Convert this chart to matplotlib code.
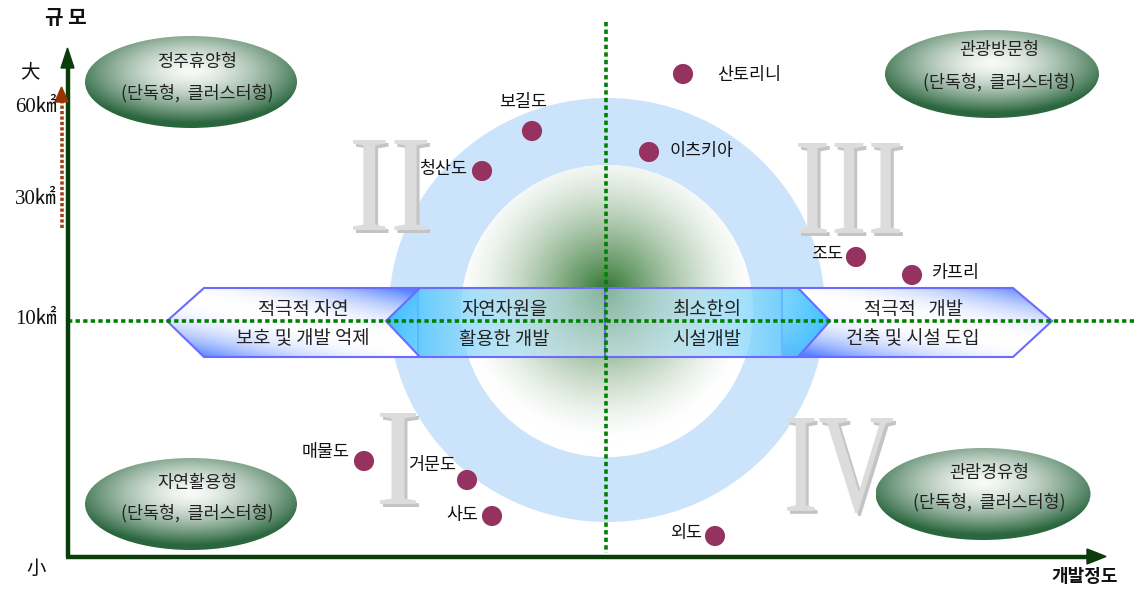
import numpy as np
import matplotlib
matplotlib.use('Agg')
import matplotlib.pyplot as plt
from matplotlib.patches import Polygon, Ellipse, Circle, PathPatch
from matplotlib.textpath import TextPath
from matplotlib.font_manager import FontProperties
from matplotlib.transforms import Affine2D

plt.rcParams['font.family'] = ['Noto Sans CJK KR', 'DejaVu Sans']

# ---------------- data ----------------
island_names = ['산토리니', '보길도', '이츠키아', '청산도', '조도', '카프리', '매물도', '거문도', '사도', '외도']
dev_degree = [683, 532, 649, 482, 856, 912, 364, 467, 492, 715]   # horizontal position (development degree)
scale_pos = [74, 131, 152, 171, 257, 275, 461, 480, 516, 536]     # vertical position (scale)

scale_ticks = ['60㎢', '30㎢', '10㎢']
scale_tick_pos = [108, 200, 320]

type_names = ['정주휴양형', '관광방문형', '자연활용형', '관람경유형']
type_sub = '(단독형,  클러스터형)'

band_labels = [('적극적 자연', '보호 및 개발 억제'),
               ('자연자원을', '활용한 개발'),
               ('최소한의', '시설개발'),
               ('적극적   개발', '건축 및 시설 도입')]

quadrants = ['II', 'III', 'I', 'IV']

# ---------------- figure ----------------
W, H = 1137, 590
fig = plt.figure(figsize=(W / 100, H / 100), dpi=100)
ax = fig.add_axes([0, 0, 1, 1])
ax.set_xlim(0, W)
ax.set_ylim(H, 0)
ax.axis('off')


def grad_img(x0, x1, y0, y1, func, clip, z):
    nx = int(x1 - x0) + 1
    ny = int(y1 - y0) + 1
    xs = np.linspace(x0, x1, nx)
    ys = np.linspace(y0, y1, ny)
    X, Y = np.meshgrid(xs, ys)
    img = func(X, Y)
    im = ax.imshow(img, extent=(x0, x1, y1, y0), origin='upper', zorder=z,
                   interpolation='bilinear', aspect='auto')
    im.set_clip_path(clip)
    return im


# ---- ring ----
cx, cy = 607, 310
ring = Ellipse((cx, cy), 436, 424, facecolor='#cce4fb', edgecolor='none', zorder=1)
ax.add_patch(ring)
inner = Circle((607, 311), 146, facecolor='white', edgecolor='none', zorder=2)
ax.add_patch(inner)


def inner_grad(X, Y):
    d = np.sqrt((X - 606) ** 2 + (Y - 292) ** 2)
    t = np.clip(1 - d / 150.0, 0, 1) ** 1.5
    white = np.array([255, 255, 255]) / 255
    green = np.array([45, 115, 45]) / 255
    return white[None, None, :] * (1 - t[..., None]) + green[None, None, :] * t[..., None]


grad_img(461, 753, 165, 457, inner_grad, inner, 2.5)

# ---- ellipses ----
ell_specs = [((191, 82), 212, 92), ((992, 74), 214, 88), ((191, 504), 212, 92), ((983, 494), 215, 92)]
title_pos = [(197, 62), (999, 50), (197, 483), (989, 473)]
sub_pos = [(197, 93), (999, 82), (197, 513), (989, 502)]


def ell_grad_factory(c, w, h):
    def f(X, Y):
        u = (X - c[0]) / (w / 2)
        v = (Y - c[1]) / (h / 2)
        d = np.sqrt(u ** 2 + (v + 0.25) ** 2) / 1.15
        t = np.clip(d, 0, 1) ** 1.5
        light = np.array([248, 250, 248]) / 255
        dark = np.array([42, 102, 62]) / 255
        return light[None, None, :] * (1 - t[..., None]) + dark[None, None, :] * t[..., None]
    return f


for (c, w, h), tp, sp, name in zip(ell_specs, title_pos, sub_pos, type_names):
    e = Ellipse(c, w, h, facecolor='none', edgecolor='none', zorder=3)
    ax.add_patch(e)
    grad_img(c[0] - w / 2, c[0] + w / 2, c[1] - h / 2, c[1] + h / 2, ell_grad_factory(c, w, h), e, 3)
    ax.text(tp[0], tp[1], name, ha='center', va='center', fontsize=12.5, color='#222222', zorder=4)
    ax.text(sp[0], sp[1], type_sub, ha='center', va='center', fontsize=12.5, color='#222222', zorder=4)

# ---- roman numerals ----
roman_boxes = [(353, 427, 140, 230), (798, 900, 143, 233), (380, 416, 413, 504), (787, 893, 418, 513)]
fp_serif = FontProperties(family='Liberation Serif')


def roman(txt, x0, x1, y0, y1, color, z):
    tp = TextPath((0, 0), txt, size=100, prop=fp_serif)
    bb = tp.get_extents()
    sx = (x1 - x0) / bb.width
    sy = (y1 - y0) / bb.height
    tr = Affine2D().translate(-bb.x0, -bb.y1).scale(sx, -sy).translate(x0, y0)
    p = PathPatch(tr.transform_path(tp), facecolor=color, edgecolor='none', zorder=z)
    ax.add_patch(p)


for txt, (x0, x1, y0, y1) in zip(quadrants, roman_boxes):
    roman(txt, x0 + 3, x1 + 3, y0 + 3, y1 + 3, '#c4c4c4', 3.5)
    roman(txt, x0, x1, y0, y1, '#dcdcdc', 3.6)

# ---- bands ----
yt, ym, yb = 288, 321, 357
band_polys = [
    [(167, ym), (204, yt), (418, yt), (418, yb), (204, yb)],
    [(386, ym), (420, yt), (605, yt), (605, yb), (420, yb)],
    [(605, yt), (798, yt), (830, ym), (798, yb), (605, yb)],
    [(782, yt), (1013, yt), (1052, ym), (1013, yb), (782, yb)],
]


def blue_diag(x0, x1):
    def f(X, Y):
        u = (X - (x0 + x1) / 2) / ((x1 - x0) / 2)
        v = (Y - ym) / ((yb - yt) / 2)
        s = np.clip(np.abs(u * 0.5 - v * 0.6), 0, 1)
        t = s ** 2.2
        white = np.array([255, 255, 255]) / 255
        blue = np.array([85, 130, 255]) / 255
        return white[None, None, :] * (1 - t[..., None]) + blue[None, None, :] * t[..., None]
    return f


def cyan_fade(x0, x1, strong_left):
    def f(X, Y):
        u = (X - x0) / (x1 - x0)
        if strong_left:
            u = 1 - u
        t = np.clip(u, 0, 1) ** 1.6
        base = np.array([205, 235, 250]) / 255
        cyan = np.array([50, 190, 255]) / 255
        rgb = base[None, None, :] * (1 - t[..., None]) + cyan[None, None, :] * t[..., None]
        a = 0.55 + 0.4 * t
        return np.dstack([rgb, a])
    return f


order = [0, 3, 1, 2]
for k, i in enumerate(order):
    pts = band_polys[i]
    z = 5 + k * 0.2
    poly = Polygon(pts, closed=True, facecolor='none', edgecolor='#6b6bff', linewidth=1.5, zorder=z + 0.1)
    ax.add_patch(poly)
    xs = [p[0] for p in pts]
    x0, x1 = min(xs), max(xs)
    if i in (0, 3):
        func = blue_diag(x0, x1)
    elif i == 1:
        func = cyan_fade(x0, x1, True)
    else:
        func = cyan_fade(x0, x1, False)
    grad_img(x0, x1, yt, yb, func, poly, z)

band_text_x = [303, 504, 707, 913]
for bx, (l1, l2) in zip(band_text_x, band_labels):
    ax.text(bx, 309, l1, ha='center', va='center', fontsize=13.5, color='#222222', zorder=8)
    ax.text(bx, 339, l2, ha='center', va='center', fontsize=13.5, color='#222222', zorder=8)

# ---- dotted reference lines ----
ax.plot([68, W], [321, 321], color='#008000', linewidth=2.6, linestyle=(0, (1.2, 0.9)),
        dash_capstyle='butt', zorder=7.5)
ax.plot([606, 606], [22, 553], color='#008000', linewidth=2.6, linestyle=(0, (1.2, 0.9)),
        dash_capstyle='butt', zorder=7.5)

# ---- axes arrows ----
axis_c = '#0b3d0b'
ax.plot([67.5, 67.5], [557, 66], color=axis_c, linewidth=3.2, solid_capstyle='butt', zorder=9)
ax.add_patch(Polygon([(61, 68), (67.5, 48), (74, 68)], closed=True, color=axis_c, zorder=9))
ax.plot([66, 1090], [556.5, 556.5], color=axis_c, linewidth=3.2, solid_capstyle='butt', zorder=9)
ax.add_patch(Polygon([(1087, 549), (1106, 556.5), (1087, 564)], closed=True, color=axis_c, zorder=9))

# brown scale arrow
ax.plot([61.5, 61.5], [228, 102], color='#a0401a', linewidth=2.6, linestyle=(0, (0.9, 0.6)),
        dash_capstyle='butt', zorder=9)
ax.add_patch(Polygon([(55, 102), (61.5, 87), (68, 102)], closed=True, color='#993300', zorder=9))

# ---- axis texts ----
ax.text(66, 18, '규 모', ha='center', va='center', fontsize=14.5, fontweight='bold', color='#111111')
ax.text(30, 72, '大', ha='center', va='center', fontsize=14, color='#111111')
ax.text(36, 568, '小', ha='center', va='center', fontsize=14, color='#111111')
ax.text(1085, 577, '개발정도', ha='center', va='center', fontsize=13, fontweight='bold', color='#111111')

for lab, yy in zip(scale_ticks, scale_tick_pos):
    ax.text(57, yy, lab, ha='right', va='center', fontsize=15,
            family=['Liberation Serif', 'Noto Sans CJK KR'], color='#111111', zorder=10)

# ---- islands ----
ax.scatter(dev_degree, scale_pos, s=210, color='#96325f', edgecolors='none', zorder=10)

label_offsets = [(34, 1, 'left'), (-9, -29, 'center'), (21, -1, 'left'), (-15, -2, 'right'),
                 (-13, -3, 'right'), (20, -2, 'left'), (-14, -9, 'right'), (-35, -15, 'center'),
                 (-14, -1, 'right'), (-13, -3, 'right')]
for name, xx, yy, (dx, dy, ha) in zip(island_names, dev_degree, scale_pos, label_offsets):
    ax.text(xx + dx, yy + dy, name, ha=ha, va='center', fontsize=12.5, color='#111111', zorder=10)

fig.savefig('out.png', dpi=100)
